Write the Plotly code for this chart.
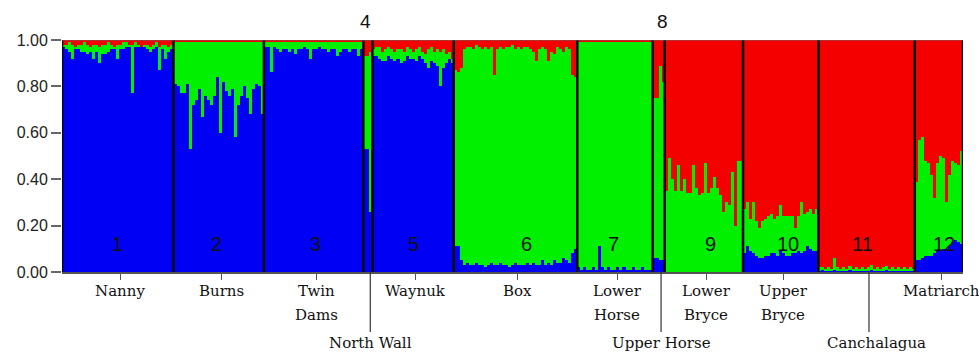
import numpy as np
import plotly.graph_objects as go

# ---------------- data (membership proportions per individual) ----------------
pop_names = ["Nanny", "Burns", "Twin Dams", "North Wall", "Waynuk", "Box",
             "Lower Horse", "Upper Horse", "Lower Bryce", "Upper Bryce",
             "Canchalagua", "Matriarch"]
pop_numbers = ["1", "2", "3", "4", "5", "6", "7", "8", "9", "10", "11", "12"]

blue_nanny = [0.97,0.96,0.95,0.92,0.96,0.96,0.95,0.95,0.94,0.95,
              0.92,0.95,0.90,0.94,0.94,0.95,0.96,0.96,0.92,0.96,
              0.96,0.97,0.97,0.77,0.97,0.97,0.97,0.97,0.96,0.95,
              0.96,0.97,0.87,0.96,0.92,0.95,0.96]
red_nanny = [0.02,0.02,0.01,0.02,0.03,0.02,0.02,0.01,0.02,0.03,
             0.02,0.02,0.03,0.02,0.02,0.01,0.02,0.03,0.02,0.02,
             0.01,0.01,0.02,0.02,0.01,0.02,0.03,0.02,0.02,0.03,
             0.02,0.01,0.03,0.02,0.02,0.03,0.02]

blue_burns = [0.81,0.80,0.77,0.77,0.81,0.53,0.72,0.74,0.79,0.67,
              0.76,0.74,0.72,0.76,0.84,0.60,0.82,0.78,0.76,0.79,
              0.58,0.72,0.76,0.80,0.75,0.68,0.79,0.81,0.80,0.68]
red_burns = [0.01,0.01,0.01,0.005,0.01,0.01,0.005,0.01,0.01,0.01,
             0.005,0.01,0.01,0.01,0.005,0.01,0.01,0.01,0.005,0.01,
             0.01,0.01,0.005,0.01,0.01,0.01,0.005,0.01,0.01,0.01]

blue_twin = [0.97,0.97,0.86,0.97,0.96,0.95,0.96,0.96,0.95,0.96,
             0.94,0.96,0.96,0.97,0.96,0.92,0.96,0.96,0.97,0.96,
             0.96,0.95,0.96,0.96,0.93,0.95,0.96,0.96,0.95,0.96,
             0.96,0.93,0.96]
red_twin = [0.005,0.01,0.005,0.005,0.01,0.005,0.005,0.005,0.01,0.005,
            0.005,0.005,0.01,0.005,0.005,0.005,0.005,0.01,0.005,0.005,
            0.01,0.005,0.005,0.005,0.01,0.005,0.005,0.01,0.005,0.005,
            0.005,0.01,0.005]

blue_northwall = [0.53, 0.53, 0.26]
red_northwall = [0.07, 0.07, 0.05]

blue_waynuk = [0.93,0.93,0.92,0.91,0.91,0.93,0.92,0.91,0.92,0.90,
               0.91,0.93,0.92,0.92,0.91,0.93,0.92,0.90,0.88,0.91,
               0.90,0.89,0.80,0.88,0.90,0.92,0.90]
red_waynuk = [0.04,0.03,0.03,0.05,0.04,0.03,0.04,0.05,0.04,0.04,
              0.05,0.03,0.04,0.05,0.04,0.03,0.05,0.06,0.04,0.03,
              0.05,0.04,0.05,0.04,0.06,0.05,0.08]

blue_box = [0.11,0.11,0.05,0.03,0.04,0.03,0.03,0.04,0.03,0.03,
            0.02,0.03,0.04,0.03,0.03,0.04,0.03,0.03,0.02,0.03,
            0.04,0.03,0.03,0.03,0.04,0.03,0.04,0.03,0.03,0.05,
            0.03,0.04,0.03,0.05,0.04,0.04,0.06,0.05,0.04,0.08,
            0.10]
red_box = [0.13,0.14,0.12,0.04,0.03,0.03,0.04,0.02,0.03,0.04,
           0.03,0.04,0.03,0.15,0.04,0.03,0.04,0.03,0.03,0.02,
           0.04,0.03,0.04,0.03,0.03,0.04,0.05,0.09,0.04,0.03,
           0.04,0.09,0.05,0.06,0.03,0.04,0.05,0.03,0.04,0.15,
           0.16]

blue_lowerhorse = [0.02,0.01,0.02,0.01,0.01,0.02,0.01,0.11,0.02,0.01,
                   0.02,0.01,0.01,0.02,0.01,0.02,0.01,0.01,0.02,0.01,
                   0.01,0.02,0.01,0.01,0.01]
red_lowerhorse = [0.005,0.01,0.005,0.005,0.01,0.005,0.005,0.01,0.005,0.005,
                  0.005,0.005,0.005,0.01,0.005,0.005,0.005,0.005,0.005,0.005,
                  0.005,0.005,0.005,0.005,0.005]

blue_upperhorse = [0.06, 0.06, 0.05, 0.05]
red_upperhorse = [0.25, 0.25, 0.11, 0.18]

blue_lowerbryce = [0.0,0.0,0.0,0.0,0.0,0.0,0.0,0.0,0.0,0.0,
                   0.0,0.0,0.0,0.0,0.0,0.0,0.0,0.0,0.0,0.0,
                   0.0,0.0,0.0,0.0,0.0,0.0]
red_lowerbryce = [0.65,0.51,0.60,0.65,0.54,0.65,0.60,0.66,0.66,0.54,
                  0.64,0.67,0.66,0.53,0.66,0.64,0.59,0.64,0.67,0.74,
                  0.70,0.71,0.57,0.80,0.52,0.52]

blue_upperbryce = [0.08,0.11,0.09,0.08,0.07,0.06,0.06,0.07,0.07,0.08,
                   0.08,0.07,0.09,0.08,0.07,0.07,0.08,0.08,0.09,0.08,
                   0.09,0.11,0.10,0.09,0.09]
red_upperbryce = [0.73,0.70,0.77,0.70,0.78,0.81,0.78,0.77,0.76,0.75,
                  0.77,0.76,0.71,0.76,0.76,0.76,0.76,0.81,0.76,0.70,
                  0.75,0.74,0.73,0.75,0.73]

blue_canch = [0.005,0.01,0.005,0.005,0.005,0.01,0.005,0.005,0.005,0.005,
              0.01,0.005,0.005,0.005,0.005,0.005,0.005,0.01,0.005,0.005,
              0.005,0.005,0.01,0.005,0.005,0.005,0.005,0.005,0.005,0.005,
              0.005,0.005]
red_canch = [0.98,0.98,0.985,0.98,0.985,0.94,0.98,0.985,0.98,0.985,
             0.975,0.985,0.98,0.985,0.98,0.985,0.98,0.97,0.985,0.98,
             0.985,0.98,0.975,0.985,0.98,0.985,0.98,0.985,0.98,0.985,
             0.98,0.985]

blue_matriarch = [0.05,0.05,0.06,0.07,0.07,0.07,0.08,0.09,0.09,0.10,
                  0.10,0.11,0.13,0.14,0.13,0.12]
red_matriarch = [0.61,0.43,0.42,0.52,0.53,0.58,0.68,0.53,0.50,0.51,
                 0.70,0.58,0.52,0.53,0.54,0.48]

blue_groups = [blue_nanny, blue_burns, blue_twin, blue_northwall, blue_waynuk,
               blue_box, blue_lowerhorse, blue_upperhorse, blue_lowerbryce,
               blue_upperbryce, blue_canch, blue_matriarch]
red_groups = [red_nanny, red_burns, red_twin, red_northwall, red_waynuk,
              red_box, red_lowerhorse, red_upperhorse, red_lowerbryce,
              red_upperbryce, red_canch, red_matriarch]

# ---------------- derived ----------------
counts = [len(b) for b in blue_groups]
starts = np.concatenate([[0], np.cumsum(counts)[:-1]])
ends = np.cumsum(counts)
centers = (starts + ends - 1) / 2.0
n_total = int(sum(counts))

blue = np.concatenate([np.array(b, float) for b in blue_groups])
red = np.concatenate([np.array(r, float) for r in red_groups])
green = np.clip(1.0 - blue - red, 0, 1)
x = np.arange(n_total)

# ---------------- style ----------------
C_BLUE = "#0000f4"
C_GREEN = "#00f000"
C_RED = "#f40000"
SERIF = "DejaVu Serif"
SANS = "Liberation Sans, Arial, sans-serif"
label_shift = 0.8  # small rightward shift of x labels (index units)
number_shift = [0, -0.6, 0.7, -0.9, 0, 3.5, -0.5, 1.3, 2.3, 2.4, -1.5, 1.8]

fig = go.Figure()
for vals, col, nm in [(blue, C_BLUE, "K1"), (green, C_GREEN, "K2"), (red, C_RED, "K3")]:
    fig.add_trace(go.Bar(x=x, y=vals, marker=dict(color=col, line=dict(width=0)),
                         name=nm, showlegend=False, hoverinfo="skip"))

shapes = []
# group separators
for b in list(starts) + [n_total]:
    shapes.append(dict(type="line", xref="x", yref="y", x0=b - 0.5, x1=b - 0.5,
                       y0=0, y1=1, line=dict(color="black", width=2.5)))
# top border
shapes.append(dict(type="line", xref="paper", yref="y", x0=0, x1=1, y0=1, y1=1,
                   line=dict(color="#666", width=1)))

annotations = []
# population numbers
for i, num in enumerate(pop_numbers):
    if num in ("4", "8"):
        annotations.append(dict(x=centers[i] + number_shift[i], y=1.078, xref="x", yref="paper",
                                text=num, showarrow=False, font=dict(family=SANS, size=19, color="#111"),
                                xanchor="center", yanchor="middle"))
    else:
        annotations.append(dict(x=centers[i] + number_shift[i], y=0.12, xref="x", yref="y",
                                text=num, showarrow=False, font=dict(family=SANS, size=20, color="#111"),
                                xanchor="center", yanchor="middle"))

# x labels
leader_pops = {"North Wall", "Upper Horse", "Canchalagua"}
tickvals = []
for i, nm in enumerate(pop_names):
    xc = centers[i] + label_shift
    if nm in leader_pops:
        shapes.append(dict(type="line", xref="x", yref="paper", x0=xc, x1=xc,
                           y0=0, y1=-0.259, line=dict(color="#333", width=1.2)))
        tx = xc + (2.5 if nm == "Canchalagua" else 0)
        annotations.append(dict(x=tx, y=-0.306, xref="x", yref="paper", text=nm,
                                showarrow=False, font=dict(family=SERIF, size=15, color="#111"),
                                xanchor="center", yanchor="middle"))
    else:
        tickvals.append(xc)
        parts = nm.split(" ")
        ys = [-0.082, -0.185]
        for j, p in enumerate(parts):
            annotations.append(dict(x=xc, y=ys[j], xref="x", yref="paper", text=p,
                                    showarrow=False, font=dict(family=SERIF, size=15, color="#111"),
                                    xanchor="center", yanchor="middle"))

ytick_vals = [0.0, 0.2, 0.4, 0.6, 0.8, 1.0]
fig.update_layout(
    width=979, height=354,
    margin=dict(l=62, r=16, t=40, b=82),
    paper_bgcolor="white", plot_bgcolor="white",
    barmode="stack", bargap=0,
    shapes=shapes, annotations=annotations,
    xaxis=dict(range=[-0.5, n_total - 0.5], showgrid=False, zeroline=False,
               showline=True, linecolor="#555", linewidth=1.5,
               tickmode="array", tickvals=tickvals, ticks="outside", ticklen=6,
               tickcolor="#555", tickwidth=1.2, showticklabels=False),
    yaxis=dict(range=[0, 1], showgrid=False, zeroline=False, showline=False,
               tickmode="array", tickvals=ytick_vals,
               ticktext=["%.2f" % v for v in ytick_vals],
               ticks="outside", ticklen=10, tickcolor="#666", tickwidth=1.5,
               tickfont=dict(family=SANS, size=16, color="#222")),
)

fig.write_html("out.html",
               config={"displayModeBar": False},
               post_script="document.body.style.margin='0';document.body.style.overflow='hidden';")
